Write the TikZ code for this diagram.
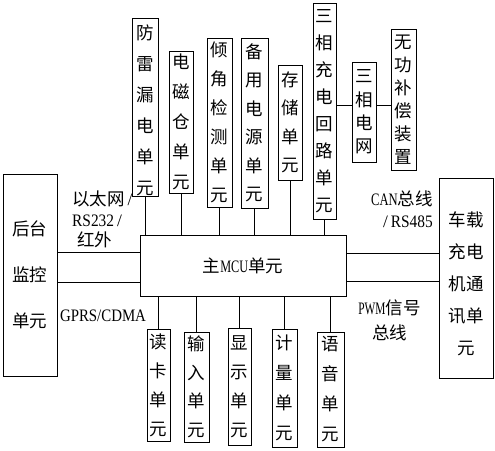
\documentclass[tikz,border=0pt]{standalone}
\usepackage{fontspec}
\usepackage{graphicx}
\setmainfont{Liberation Serif}
\newfontfamily\cjk{Noto Sans CJK SC}
\newcommand\lat[2]{\scalebox{#1}[1]{\rmfamily #2}}
\newcommand\vt[1]{\cjk\fontsize{17.5}{#1}\selectfont}
\begin{document}
\begin{tikzpicture}[x=1pt,y=-1pt,
  bx/.style={draw, line width=0.8pt, inner sep=0pt, align=center},
  ln/.style={line width=0.8pt}]
\useasboundingbox (0,0) rectangle (495,450);
% top boxes
\node[bx, minimum width=26, minimum height=177, font=\vt{31}] (fl) at (145,107.5) {\rule{0pt}{21pt}防\\雷\\漏\\电\\单\\元};
\node[bx, minimum width=24, minimum height=142, font=\vt{30}] (dc) at (181,122) {电\\磁\\仓\\单\\元};
\node[bx, minimum width=25, minimum height=169, font=\vt{29}] (qj) at (219.5,122.5) {倾\\角\\检\\测\\单\\元};
\node[bx, minimum width=27, minimum height=170, font=\vt{28.5}] (by) at (254.5,123) {备\\用\\电\\源\\单\\元};
\node[bx, minimum width=24, minimum height=115, font=\vt{28.5}] (cc) at (290,122.5) {存\\储\\单\\元};
\node[bx, minimum width=23, minimum height=216, font=\vt{27}] (sc) at (324.5,111) {三\\相\\充\\电\\回\\路\\单\\元};
\node[bx, minimum width=24, minimum height=100, font=\vt{23.3}] (dw) at (364,112) {三\\相\\电\\网};
\node[bx, minimum width=25, minimum height=141, font=\vt{23}] (wg) at (403.5,99.5) {无\\功\\补\\偿\\装\\置};
% side boxes
\node[bx, minimum width=54, minimum height=202, font=\vt{46}] (ht) at (30,275) {后台\\监控\\单元};
\node[bx, minimum width=54, minimum height=200, font=\vt{32}] (cz) at (466,278) {\rule{0pt}{27pt}车载\\充电\\机通\\讯单\\元};
% main
\node[bx, minimum width=206, minimum height=61, font=\vt{20}] (mcu) at (243,265.5) {主\lat{0.7}{MCU}单元};
% bottom boxes
\node[bx, minimum width=23, minimum height=112, font=\vt{29}] (dk) at (158.5,385) {读\\卡\\单\\元};
\node[bx, minimum width=25, minimum height=110, font=\vt{28.5}] (sr) at (196.5,387) {输\\入\\单\\元};
\node[bx, minimum width=23, minimum height=117, font=\vt{29}] (xs) at (239.5,386.5) {显\\示\\单\\元};
\node[bx, minimum width=25, minimum height=118, font=\vt{30}] (jl) at (284.5,388) {计\\量\\单\\元};
\node[bx, minimum width=27, minimum height=115, font=\vt{30}] (yy) at (330.5,389.5) {语\\音\\单\\元};
% labels
\node[align=left, anchor=west, inner sep=0pt, font=\vt{20.5}] (eth) at (72,219.5) {以太网\lat{1}{\,/}\\\lat{0.88}{RS232}\lat{1}{\,/}\\\hspace{5pt}红外};
\node[inner sep=0pt, font=\vt{20}] (gprs) at (103,316) {\lat{0.85}{GPRS/CDMA}};
\node[align=right, anchor=east, inner sep=0pt, font=\vt{22}] (can) at (433,209) {\lat{0.72}{CAN}总线\\\lat{1}{/\,}\lat{0.88}{RS485}};
\node[align=center, inner sep=0pt, font=\vt{25}] (pwm) at (389.5,320.5) {\lat{0.65}{PWM}信号\\总线};
% helper coordinates
\coordinate (ya) at (0,252);
\coordinate (yb) at (0,282);
\coordinate (yc) at (0,253);
\coordinate (yd) at (0,281);
\coordinate (ye) at (0,105);
% connectors
\foreach \n in {fl,dc,qj,by,cc,sc} \draw[ln] (\n) -- (\n |- mcu.north);
\foreach \n in {dk,sr,xs,jl,yy} \draw[ln] (mcu.south -| \n) -- (\n);
\draw[ln] (ht.east |- ya) -- (mcu.west |- ya);
\draw[ln] (ht.east |- yb) -- (mcu.west |- yb);
\draw[ln] (mcu.east |- yc) -- (cz.west |- yc);
\draw[ln] (mcu.east |- yd) -- (cz.west |- yd);
\draw[ln] (sc.east |- ye) -- (dw.west |- ye);
\draw[ln] (dw.east |- ye) -- (wg.west |- ye);
\end{tikzpicture}
\end{document}
